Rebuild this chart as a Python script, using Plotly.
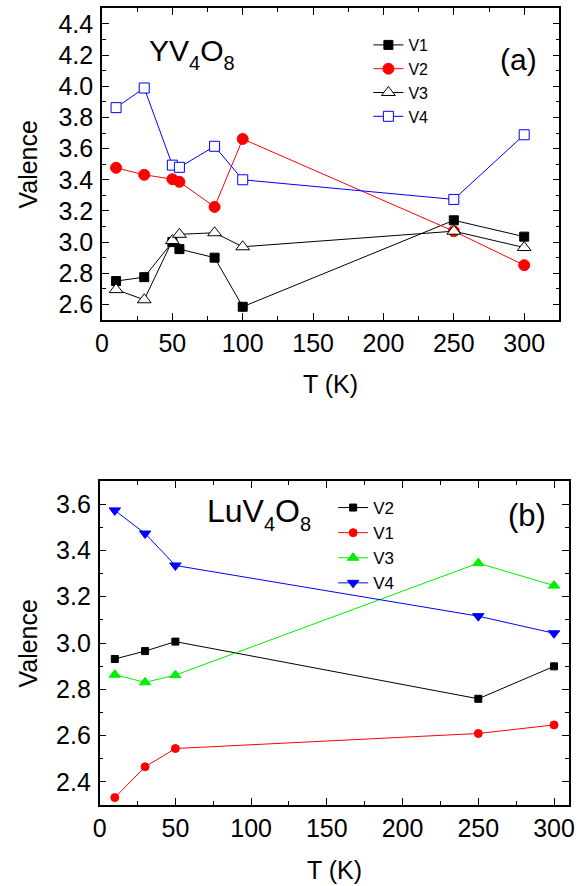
import plotly.graph_objects as go

# ---- data: panel (a) YV4O8 ----
T_a = [10, 30, 50, 55, 80, 100, 250, 300]
V1_a = [2.75, 2.775, 3.00, 2.955, 2.90, 2.585, 3.14, 3.035]
V2_a = [3.477, 3.432, 3.404, 3.387, 3.226, 3.662, 3.07, 2.852]
V3_a = [2.695, 2.63, 3.01, 3.05, 3.06, 2.97, 3.07, 2.965]
V4_a = [3.863, 3.989, 3.494, 3.48, 3.615, 3.40, 3.274, 3.689]

# ---- data: panel (b) LuV4O8 ----
T_b = [10, 30, 50, 250, 300]
V2_b = [2.931, 2.965, 3.006, 2.759, 2.899]
V1_b = [2.332, 2.465, 2.544, 2.609, 2.646]
V3_b = [2.863, 2.830, 2.861, 3.345, 3.248]
V4_b = [3.573, 3.473, 3.335, 3.116, 3.042]

FONT = "Liberation Sans, Arial, sans-serif"
W, H = 582, 886

fig = go.Figure()

def add(x, y, name, color, symbol, size, mfill, xa, ya, legend):
    fig.add_trace(go.Scatter(
        x=x, y=y, name=name, mode="lines+markers",
        line=dict(color=color, width=1),
        marker=dict(symbol=symbol, size=size, color=mfill,
                    line=dict(color=color, width=1)),
        xaxis=xa, yaxis=ya, legend=legend,
    ))

# panel (a)
add(T_a, V1_a, "V1", "black", "square", 9, "black", "x", "y", "legend")
add(T_a, V2_a, "V2", "red", "circle", 11, "red", "x", "y", "legend")
add(T_a, V3_a, "V3", "black", "triangle-up", 12, "white", "x", "y", "legend")
add(T_a, V4_a, "V4", "blue", "square", 10, "white", "x", "y", "legend")

# panel (b)
add(T_b, V2_b, "V2", "black", "square", 7, "black", "x2", "y2", "legend2")
add(T_b, V1_b, "V1", "red", "circle", 8, "red", "x2", "y2", "legend2")
add(T_b, V3_b, "V3", "#00ee00", "triangle-up", 10, "#00ee00", "x2", "y2", "legend2")
add(T_b, V4_b, "V4", "blue", "triangle-down", 10, "blue", "x2", "y2", "legend2")

def px_x(p):
    return p / W

def px_y(p):
    return 1 - p / H

axis_common = dict(
    showline=True, linecolor="black", linewidth=1.6, mirror="ticks",
    ticks="inside", ticklen=7, tickwidth=1.2, tickcolor="black",
    showgrid=False, zeroline=False,
    tickfont=dict(family=FONT, size=25, color="black"),
)
minor_x = dict(dtick=25, ticks="inside", ticklen=4, tickwidth=1, tickcolor="black")
minor_y = dict(dtick=0.1, ticks="inside", ticklen=4, tickwidth=1, tickcolor="black")

fig.update_layout(
    width=W, height=H,
    margin=dict(l=0, r=0, t=0, b=0),
    paper_bgcolor="white", plot_bgcolor="white",
    font=dict(family=FONT, color="black"),
    xaxis=dict(domain=[px_x(97), px_x(564)], range=[0, 325], anchor="y",
               tickvals=[0, 50, 100, 150, 200, 250, 300], minor=minor_x,
               **axis_common),
    yaxis=dict(domain=[px_y(320), px_y(8.4)], range=[2.5, 4.5], anchor="x",
               dtick=0.2, tick0=2.6, tickformat=".1f", minor=minor_y,
               ticklabelstandoff=2, **axis_common),
    xaxis2=dict(domain=[px_x(94.6), px_x(574)], range=[0, 310], anchor="y2",
                tickvals=[0, 50, 100, 150, 200, 250, 300], minor=minor_x,
                **axis_common),
    yaxis2=dict(domain=[px_y(805), px_y(481)], range=[2.3, 3.7], anchor="x2",
                dtick=0.2, tick0=2.4, tickformat=".1f", minor=minor_y,
                ticklabelstandoff=2, **axis_common),
    legend=dict(x=px_x(369), y=px_y(28), xanchor="left", yanchor="top",
                bgcolor="rgba(0,0,0,0)", font=dict(family=FONT, size=16),
                itemsizing="trace", tracegroupgap=0),
    legend2=dict(x=px_x(333), y=px_y(490), xanchor="left", yanchor="top",
                 bgcolor="rgba(0,0,0,0)", font=dict(family=FONT, size=17),
                 itemsizing="trace", tracegroupgap=0),
)

sub = '<span style="font-size:20px;baseline-shift:-0.45em">{}</span>'
annotations = [
    dict(text="YV" + sub.format("4") + "O" + sub.format("8"),
         x=px_x(143), y=px_y(54), xanchor="left", yanchor="middle"),
    dict(text="LuV" + sub.format("4") + "O" + sub.format("8"),
         x=px_x(202), y=px_y(514), xanchor="left", yanchor="middle",
         font=dict(family=FONT, size=32, color="black")),
    dict(text="(a)", x=px_x(522), y=px_y(60), xanchor="center", yanchor="middle"),
    dict(text="(b)", x=px_x(531), y=px_y(515), xanchor="center", yanchor="middle",
         font=dict(family=FONT, size=31, color="black")),
    dict(text="T (K)", x=px_x(330.5), y=px_y(384), xanchor="center", yanchor="middle",
         font=dict(family=FONT, size=25, color="black")),
    dict(text="T (K)", x=px_x(334), y=px_y(870), xanchor="center", yanchor="middle",
         font=dict(family=FONT, size=25, color="black")),
    dict(text="Valence", x=px_x(21), y=px_y(164), textangle=-90,
         xanchor="center", yanchor="middle",
         font=dict(family=FONT, size=25, color="black")),
    dict(text="Valence", x=px_x(21), y=px_y(643), textangle=-90,
         xanchor="center", yanchor="middle",
         font=dict(family=FONT, size=25, color="black")),
]
for a in annotations:
    a.setdefault("font", dict(family=FONT, size=30, color="black"))
    a.update(xref="paper", yref="paper", showarrow=False)
fig.update_layout(annotations=annotations)

fig.write_html("out.html")
